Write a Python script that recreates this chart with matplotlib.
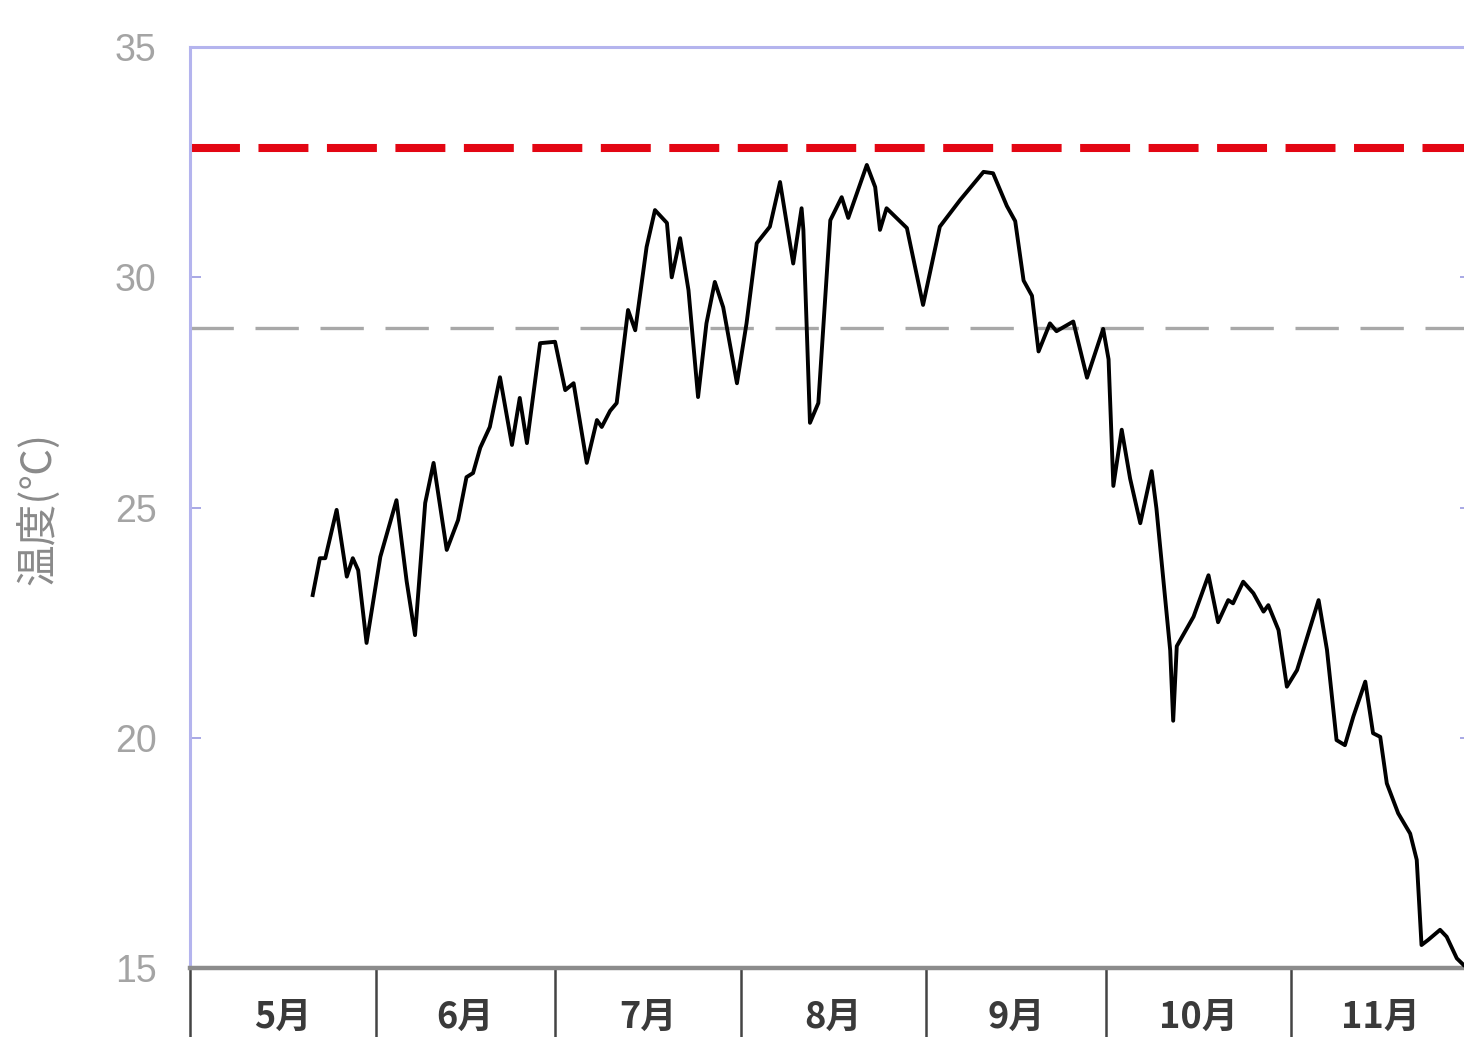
import numpy as np
import matplotlib
matplotlib.use('Agg')
import matplotlib.pyplot as plt

plt.rcParams['font.family'] = ['Noto Sans CJK JP', 'DejaVu Sans']

#days counted from May 1
days = [20.5, 21.7, 22.6, 24.5, 26.2, 27.2, 28.1, 29.5, 31.8, 34.5,
        36.2, 37.6, 39.3, 40.7, 42.9, 44.8, 46.2, 47.3, 48.5, 50.1,
        51.8, 53.8, 55.1, 56.3, 58.5, 61.0, 62.7, 64.1, 66.3, 68.0,
        68.8, 70.2, 71.3, 73.2, 74.4, 76.3, 77.7, 79.7, 80.5, 81.9,
        83.3, 84.9, 86.3, 87.7, 89.1, 91.4, 93.0, 94.7, 96.9, 98.6,
        100.8, 102.2, 102.5, 103.6, 105.0, 107.0, 108.9, 110.0, 113.1, 114.5,
        115.3, 116.4, 119.8, 122.5, 125.3, 128.7, 132.6, 134.2, 136.5, 137.9,
        139.3, 140.7, 141.8, 143.7, 144.8, 147.6, 149.9, 152.6, 153.5, 154.3,
        155.7, 157.1, 158.8, 160.7, 161.5, 163.8, 164.3, 164.9, 167.7, 170.2,
        171.8, 173.5, 174.3, 176.0, 177.7, 179.4, 180.2, 181.9, 183.3, 185.0,
        188.6, 190.0, 191.6, 193.0, 194.4, 196.4, 197.7, 198.9, 200.0, 201.9,
        203.9, 205.0, 205.8, 206.9, 208.9, 210.0, 211.7, 212.8]

#water temperature (C)
temps = [23.1, 23.9, 23.9, 24.95, 23.5, 23.9, 23.64, 22.06, 23.93, 25.16,
         23.4, 22.23, 25.1, 25.97, 24.08, 24.73, 25.66, 25.75, 26.3, 26.75,
         27.83, 26.36, 27.38, 26.4, 28.57, 28.6, 27.55, 27.7, 25.97, 26.9,
         26.75, 27.1, 27.27, 29.29, 28.85, 30.66, 31.46, 31.18, 30.0, 30.85,
         29.72, 27.4, 29.0, 29.9, 29.35, 27.7, 29.0, 30.74, 31.1, 32.07,
         30.3, 31.5, 31.03, 26.84, 27.27, 31.24, 31.74, 31.29, 32.44, 31.96,
         31.03, 31.5, 31.07, 29.4, 31.1, 31.68, 32.29, 32.26, 31.55, 31.22,
         29.93, 29.6, 28.39, 29.0, 28.83, 29.04, 27.82, 28.88, 28.22, 25.47,
         26.69, 25.63, 24.66, 25.79, 24.98, 21.9, 20.37, 21.99, 22.63, 23.53,
         22.51, 22.99, 22.92, 23.39, 23.14, 22.74, 22.88, 22.34, 21.11, 21.47,
         22.99, 21.91, 19.95, 19.84, 20.46, 21.22, 20.1, 20.02, 19.01, 18.36,
         17.92, 17.35, 15.5, 15.61, 15.83, 15.68, 15.21, 15.07]

redLevel = 32.8     #upper reference line
greyLevel = 28.9    #lower reference line

months = ['5月', '6月', '7月', '8月', '9月', '10月', '11月']
monthDays = [31, 30, 31, 31, 30, 31, 30]

monthStarts = np.concatenate([[0], np.cumsum(monthDays)])
monthMids = monthStarts[:-1] + np.array(monthDays) / 2

fig = plt.figure(figsize=(14.64, 10.37), dpi=100)
ax = fig.add_axes([0.1298, 0.0665, 0.8747, 0.8881])

ax.axhline(redLevel, color='#e30613', lw=5.8, linestyle=(0, (6.2, 2.3)), zorder=2)
ax.axhline(greyLevel, color='#a8a8a8', lw=2.4, linestyle=(0, (13, 6.5)), zorder=1)
ax.plot(days, temps, color='black', lw=2.8, solid_joinstyle='round', zorder=3)

ax.set_xlim(0, monthStarts[-1])
ax.set_ylim(15, 35)

#y axis
ax.set_yticks([15, 20, 25, 30, 35])
ax.tick_params(axis='y', which='major', direction='in', length=8, width=1.2,
               color='#9a9ae0', labelsize=27, labelcolor='#a4a4a4', pad=24,
               right=True)
for lab in ax.get_yticklabels():
    lab.set_family('Liberation Sans')

#month separators and labels
ax.set_xticks(monthStarts[:-1])
ax.set_xticklabels([])
ax.set_xticks(monthMids, minor=True)
ax.set_xticklabels(months, minor=True, fontweight='bold')
ax.tick_params(axis='x', which='major', direction='out', length=60, width=1.8, color='#444444')
ax.tick_params(axis='x', which='minor', length=0, pad=22, labelsize=26, labelcolor='#3a3a3a')

for side in ['left', 'top', 'right']:
    ax.spines[side].set_color('#b4b4ee')
    ax.spines[side].set_linewidth(2.2)
ax.spines['bottom'].set_color('#8c8c8c')
ax.spines['bottom'].set_linewidth(3.2)

fig.text(39 / 1464, 1 - 508 / 1037, '温度(℃)', rotation=90, ha='center', va='center',
         fontsize=30, color='#8a8a8a')

fig.savefig('out.png', dpi=100)
